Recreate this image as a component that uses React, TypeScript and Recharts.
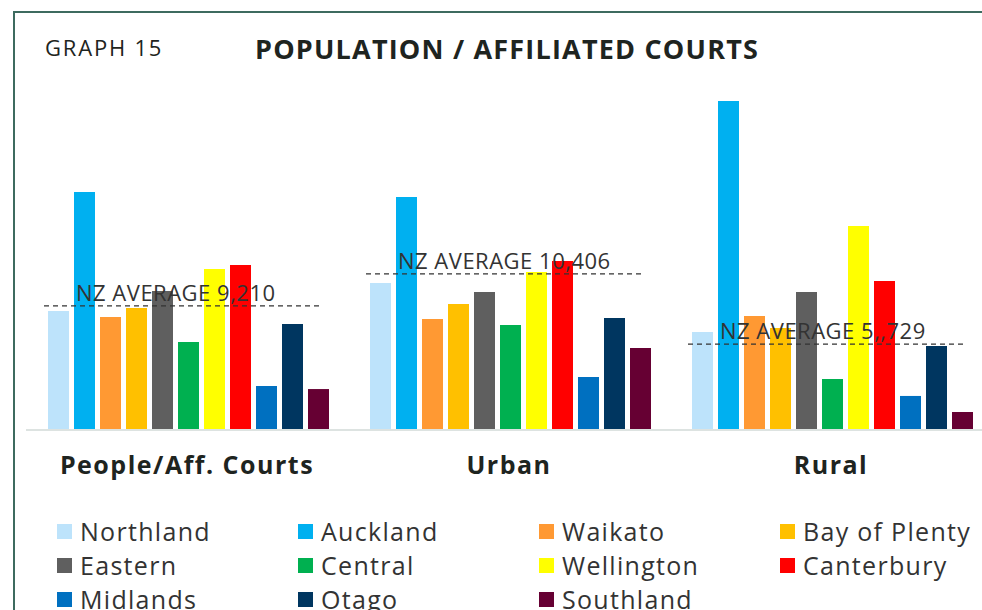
import React from 'react';
import { BarChart, Bar, XAxis, YAxis } from 'recharts';

const groups = ['People/Aff. Courts', 'Urban', 'Rural'];

const regions = [
  'Northland', 'Auckland', 'Waikato', 'Bay of Plenty', 'Eastern', 'Central',
  'Wellington', 'Canterbury', 'Midlands', 'Otago', 'Southland',
];

const regionColors = [
  '#bde3fb', '#00b0f0', '#ff9933', '#ffc000', '#5f5f5f', '#00b050',
  '#ffff00', '#ff0000', '#0070c0', '#003660', '#660033',
];

// values, one array per group, same order as regions
const peopleValues = [7940, 15870, 7540, 8140, 9270, 5870, 10740, 11000, 2930, 7070, 2730];
const urbanValues = [9800, 15540, 7400, 8400, 9200, 7000, 10540, 11270, 3540, 7470, 5470];
const ruralValues = [6540, 21940, 7600, 6800, 9200, 3400, 13600, 9940, 2270, 5600, 1200];

// NZ average line level per group and the label printed on it
const avgLevels = [8270, 10406, 5729];
const avgLabels = ['9,210', '10,406', '5,,729'];

const groupValues = [peopleValues, urbanValues, ruralValues];

const data = groups.map((g, gi) => {
  const row: Record<string, any> = { group: g, avg: avgLevels[gi], avgLabel: avgLabels[gi] };
  regions.forEach((r, ri) => {
    row[r] = groupValues[gi][ri];
  });
  return row;
});

const FONT = '"Open Sans", "Noto Sans", sans-serif';
const TEXT = '#1e2420';

const AvgLine = (props: any) => {
  const { x, y, width, payload } = props;
  return (
    <g>
      <line x1={x - 4} x2={x + width - 6} y1={y} y2={y} stroke="#333" strokeWidth={1.2} strokeDasharray="5 4" />
      <text x={x + 28} y={y - 5} fontSize={22} letterSpacing={0.5} fill="#333" fontFamily={FONT}>
        NZ AVERAGE {payload.avgLabel}
      </text>
    </g>
  );
};

const GroupTick = (props: any) => {
  const { x, y, payload } = props;
  return (
    <text
      x={x}
      y={y + 36}
      textAnchor="middle"
      fontSize={25}
      letterSpacing={1.5}
      fontWeight={700}
      fill={TEXT}
      fontFamily={FONT}
    >
      {payload.value}
    </text>
  );
};

export default function App() {
  return (
    <div
      style={{
        position: 'absolute',
        left: 0,
        top: 0,
        width: 982,
        height: 610,
        overflow: 'hidden',
        background: '#fff',
        fontFamily: FONT,
      }}
    >
      <div
        style={{
          position: 'absolute',
          left: 13,
          top: 11,
          width: 1000,
          height: 700,
          borderLeft: '2px solid #3d6b5f',
          borderTop: '2px solid #3d6b5f',
        }}
      />
      <div style={{ position: 'absolute', left: 45, top: 32, fontSize: 22, letterSpacing: 1.8, color: TEXT }}>
        GRAPH 15
      </div>
      <div
        style={{
          position: 'absolute',
          left: 255,
          top: 30,
          fontSize: 27,
          letterSpacing: 1.2,
          fontWeight: 700,
          color: TEXT,
          whiteSpace: 'nowrap',
        }}
      >
        POPULATION / AFFILIATED COURTS
      </div>
      <BarChart
        width={992}
        height={610}
        data={data}
        margin={{ top: 70, right: 0, bottom: 150, left: 26 }}
        barCategoryGap={22}
        barGap={5}
        style={{ position: 'absolute', left: 0, top: 0 }}
      >
        <XAxis
          dataKey="group"
          height={30}
          axisLine={{ stroke: '#dde3e1', strokeWidth: 2 }}
          tickLine={false}
          tick={<GroupTick />}
          interval={0}
        />
        <XAxis xAxisId="avg" dataKey="group" hide />
        <YAxis hide domain={[0, 24000]} />
        {regions.map((r, i) => (
          <Bar key={r} dataKey={r} fill={regionColors[i]} isAnimationActive={false} />
        ))}
        <Bar xAxisId="avg" dataKey="avg" fill="none" shape={<AvgLine />} isAnimationActive={false} />
      </BarChart>
      <div
        style={{
          position: 'absolute',
          left: 57,
          top: 514,
          display: 'grid',
          gridTemplateColumns: 'repeat(4, 241px)',
          fontSize: 25,
          letterSpacing: 1.3,
          color: '#333',
        }}
      >
        {regions.map((r, i) => (
          <div key={r} style={{ display: 'flex', alignItems: 'center', height: 34, whiteSpace: 'nowrap' }}>
            <span style={{ width: 15, height: 15, background: regionColors[i], marginRight: 8, flexShrink: 0 }} />
            <span style={{ lineHeight: '34px' }}>{r}</span>
          </div>
        ))}
      </div>
    </div>
  );
}
